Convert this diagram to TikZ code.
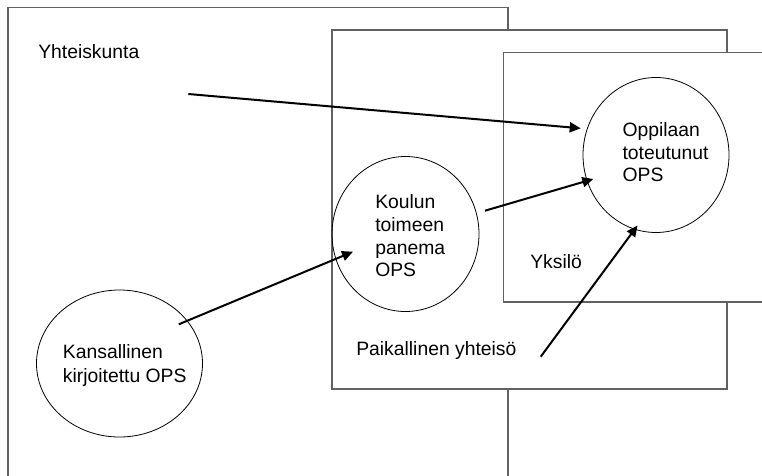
\documentclass[tikz,border=0pt]{standalone}
\usepackage{fontspec}
\setmainfont{Liberation Sans}
\usetikzlibrary{shapes.geometric,arrows.meta}
\begin{document}
\begin{tikzpicture}[x=0.75pt,y=-0.75pt,
  frame/.style={draw=black!62, line width=0.9pt, fill=white},
  bubble/.style={draw=black, line width=0.6pt, ellipse, inner sep=0pt},
  lbl/.style={inner sep=0pt, anchor=base west, align=left, font=\fontsize{14.5}{17}\selectfont},
  flow/.style={line width=1.5pt, -{Triangle[length=8.25pt,width=7.5pt]}}]
\clip (0,0) rectangle (762,475);
% nested areas
\draw[frame] (8,7.7) rectangle (508,490);
\draw[frame] (332,30) rectangle (727,389);
\draw[frame] (503.5,52.7) rectangle (780,302);
% bubbles
\node[bubble, minimum width=109.5pt, minimum height=116.25pt] (opp) at (656,155) {};
\node[bubble, minimum width=110.25pt, minimum height=116.25pt] (kou) at (405.5,234) {};
\node[bubble, minimum width=124.5pt, minimum height=110.25pt] (kan) at (119.5,363.5) {};
% labels (base = baseline of the last line)
\node[lbl] (tyht) at (38,58.7) {Yhteiskunta};
\node[lbl] (topp) at (622.3,181.7) {Oppilaan\\toteutunut\\OPS};
\node[lbl] (tkou) at (375,276.7) {Koulun\\toimeen\\panema\\OPS};
\node[lbl, font=\fontsize{14.5}{18}\selectfont] (tkan) at (62.7,382.3) {Kansallinen\\kirjoitettu OPS};
\node[lbl] (tpai) at (356,355) {Paikallinen yhteisö};
\node[lbl] (tyks) at (530,268) {Yksilö};
% arrows
\coordinate (a1s) at (188.3,94);
\coordinate (a2s) at (485,210.7);
\coordinate (a3s) at (178.8,324.3);
\coordinate (a4s) at (540.7,356.7);
\draw[flow] (a1s) -- ([shift={(-75.3,-26.7)}]opp.center);
\draw[flow] (a2s) -- ([shift={(-62.7,24)}]opp.center);
\draw[flow] (a3s) -- ([shift={(-52.5,17.7)}]kou.center);
\draw[flow] (a4s) -- ([shift={(-18.5,70.5)}]opp.center);
\end{tikzpicture}
\end{document}
